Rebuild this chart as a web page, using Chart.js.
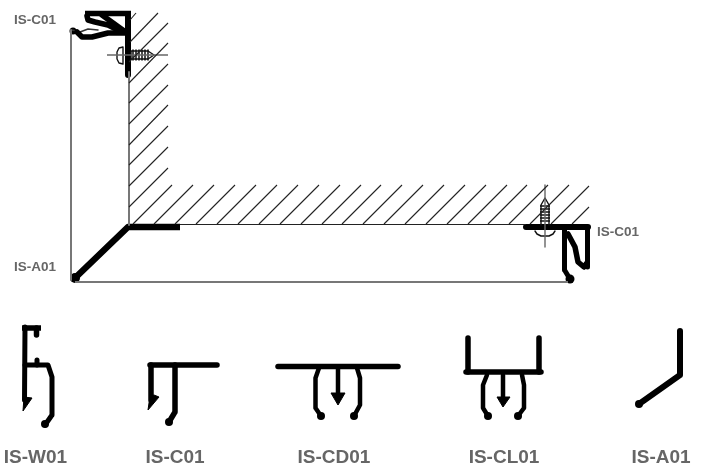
<!DOCTYPE html>
<html><head><meta charset="utf-8">
<style>html,body{margin:0;padding:0;background:#fff}canvas{display:block}</style>
<script src="https://cdn.jsdelivr.net/npm/chart.js@4"></script>
</head><body><canvas id="c" width="705" height="470" style="width:705px;height:470px"></canvas>
<script>
// Hatching, wall band
const hatchWall = [
 [[130,20],[136,13]],[[130,42],[158,13]],[[129,62],[168,23]],[[129,83],[168,43]],[[129,103],[168,64]],
 [[129,124],[168,85]],[[129,145],[168,105]],[[129,165],[168,126]],[[129,186],[168,147]],[[129,207],[168,168]]
];
// Hatching, ceiling band
const hatchFloor = [
 [[133,224],[172,185]],[[154,224],[193,185]],[[175,224],[214,185]],[[196,224],[235,185]],[[217,224],[256,185]],
 [[238,224],[277,185]],[[259,224],[298,185]],[[280,224],[319,185]],[[301,224],[340,185]],[[322,224],[361,185]],
 [[342,224],[381,185]],[[363,224],[402,185]],[[384,224],[423,185]],[[405,224],[444,185]],[[426,224],[465,185]],
 [[447,224],[486,185]],[[468,224],[507,185]],[[488,224],[527,185]],[[509,224],[548,185]],[[530,224],[569,185]],
 [[551,224],[589,186]],[[572,224],[589,207]]
];
// Room outline
const outlineGrey = [[[71,30],[71,280]],[[75,282],[568,282]],[[129,72],[129,225]]];
const outlineThin = [[[180,224.5],[525,224.5]]];
// Top-left IS-C01 assembly
const topBar = [[[85,13.5],[131,13.5]]];
const topPost = [[[128,14],[128,75]]];
const topClip = [[[87,16],[88,20],[95,22],[108,25],[118,30],[127,33]],[[102,15],[120,28],[127,33]],[[77,32],[82,37],[92,37],[108,33],[127,33]]];
const topClipThin = [[[72,30],[80,32],[88,29],[98,30]]];
const topScrewLine = [[107,55],[168,55]];
const topScrewBody = [[131,51],[148,51],[154,55],[148,59],[131,59],[131,51]];
const topScrewHead = [[123,47],[119,48],[117,52],[117,59],[119,63],[123,64],[123,47]];
const topScrewThreads = [[[133,50],[133,60]],[[136,50],[136,60]],[[139,50],[139,60]],[[142,50],[142,60]],[[145,50],[145,60]],[[148,50],[148,60]]];
const topBlobs = [[73,31]];
// Bottom-right IS-C01 assembly
const rightProfileThick = [[[526,227],[588,227]]];
const rightLegs = [[[587.5,228],[587.5,267]],[[564.5,230],[564.5,270],[570,279]]];
const rightClip = [[[568,234],[575,247],[578,262],[584,267],[587,263]]];
const rightScrewLine = [[545,185],[545,247]];
const rightScrewBody = [[541,225],[541,205],[545,198],[549,205],[549,225]];
const rightScrewHead = [[535,231],[537,234],[541,236],[549,236],[553,234],[555,231]];
const rightScrewThreads = [[[540,206],[550,206]],[[540,209],[550,209]],[[540,212],[550,212]],[[540,215],[550,215]],[[540,218],[550,218]],[[540,221],[550,221]]];
const rightBlobs = [[570,279]];
// Corner IS-A01 assembly
const cornerProfile = [[75,278],[128,227],[180,227]];
const cornerBlobs = [[75,278]];
// Sample profiles
const swatchW01Top = [[[22,328],[41,328]],[[36.5,328],[36.5,335]]];
const swatchW01 = [[[25,327],[24.5,400]],[[25,365],[48,365],[52,377],[52,415],[45,425]],[[37,360],[37,365]]];
const swatchC01 = [[[150,365],[217,365]],[[151,365],[151,400]],[[175,365],[175,412],[169,422]]];
const swatchCD01 = [[[278,366.5],[398,366.5]]];
const swatchCD01Legs = [[[319,368],[315.5,378],[315.5,408],[321,416]],[[357,368],[360,378],[360,405],[354,416]],[[338,368],[338,395]]];
const swatchCL01 = [[[468,338],[468,372]],[[539,338],[539,372]],[[466,372],[541,372]]];
const swatchCL01Legs = [[[487,375],[483,385],[483,408],[488,416]],[[522,375],[524,385],[524,408],[518,416]],[[503,375],[503,397]]];
const swatchA01 = [[[680,331],[680,375],[639,404]]];
const swatchArrows = [[[24,397],[32,398],[23,411],[24,397]],[[154,395],[159,397],[148,410],[150,396],[154,395]],[[331,393],[345,393],[338,405],[331,393]],[[497,397],[510,397],[503,407],[497,397]]];
const swatchBlobs = [[45,424],[169,422],[321,416],[354,416],[488,416],[518,416],[639,404]];
// Labels
const labelSmall = [["IS-C01",14,20.5],["IS-C01",597,232.5],["IS-A01",14,267.5]];
const labelLarge = [["IS-W01",35.5,457.5],["IS-C01",175,457.5],["IS-CD01",334,457.5],["IS-CL01",504,457.5],["IS-A01",661,457.5]];

const xy = a => a.map(p => ({x:p[0], y:p[1]}));
const stroke = (lines, color, width, cap) => lines.map(l => ({data:xy(l), showLine:true, borderColor:color, borderWidth:width,
  pointRadius:0, fill:false, tension:0, borderCapStyle:cap||'round', borderJoinStyle:'round'}));
const blobs = (pts, r) => ({data:xy(pts), showLine:false, pointRadius:r, pointBackgroundColor:'#000', pointBorderWidth:0});
const solid = (shapes) => shapes.map(s => ({data:xy(s), showLine:true, borderColor:'#000', borderWidth:1, backgroundColor:'#000', fill:'shape', pointRadius:0, tension:0}));

const datasets = [
 ...stroke(hatchWall,'#222',1.1,'butt'), ...stroke(hatchFloor,'#222',1.1,'butt'),
 ...stroke(outlineGrey,'#777',2,'butt'), ...stroke(outlineThin,'#222',1,'butt'),
 ...stroke([topScrewLine,rightScrewLine],'#666',1.4,'butt'),
 ...stroke([topScrewBody,rightScrewBody,topScrewHead,rightScrewHead],'#111',1.4),
 ...stroke(topScrewThreads,'#111',1.5,'butt'), ...stroke(rightScrewThreads,'#111',1.5,'butt'),
 ...stroke(topBar,'#000',5.5,'butt'), ...stroke(topPost,'#000',6), ...stroke(topClip,'#000',5.5), ...stroke(topClipThin,'#333',1.5), blobs(topBlobs,3.5),
 ...stroke(rightProfileThick,'#000',6), ...stroke(rightLegs,'#000',5), ...stroke(rightClip,'#000',5.5), blobs(rightBlobs,4.5),
 ...stroke([cornerProfile],'#000',6.5,'butt'), blobs(cornerBlobs,5),
 ...stroke(swatchW01Top,'#000',5.5,'butt'), ...stroke(swatchW01,'#000',5),
 ...stroke(swatchC01,'#000',5.5), ...stroke(swatchCD01,'#000',5.5), ...stroke(swatchCD01Legs,'#000',4.5),
 ...stroke(swatchCL01,'#000',5.5), ...stroke(swatchCL01Legs,'#000',4.5), ...stroke(swatchA01,'#000',6), ...solid(swatchArrows), blobs(swatchBlobs,4)
];

const textLabels = {id:'textLabels', afterDatasetsDraw(ch){
  const {ctx,scales:{x,y}} = ch; ctx.save(); ctx.fillStyle='#666'; ctx.textBaseline='middle';
  ctx.font='bold 13.5px "Liberation Sans"'; ctx.textAlign='left';
  labelSmall.forEach(l=>ctx.fillText(l[0],x.getPixelForValue(l[1]),y.getPixelForValue(l[2])));
  ctx.font='bold 19px "Liberation Sans"'; ctx.textAlign='center';
  labelLarge.forEach(l=>ctx.fillText(l[0],x.getPixelForValue(l[1]),y.getPixelForValue(l[2])));
  ctx.restore();
}};
new Chart(document.getElementById('c'),{type:'scatter',data:{datasets},plugins:[textLabels],options:{
  responsive:false,animation:false,events:[],layout:{padding:0,autoPadding:false},
  plugins:{legend:{display:false},tooltip:{enabled:false},title:{display:false}},
  scales:{x:{type:'linear',min:0,max:705,display:false},y:{type:'linear',min:0,max:470,reverse:true,display:false}}
}});
</script></body></html>
